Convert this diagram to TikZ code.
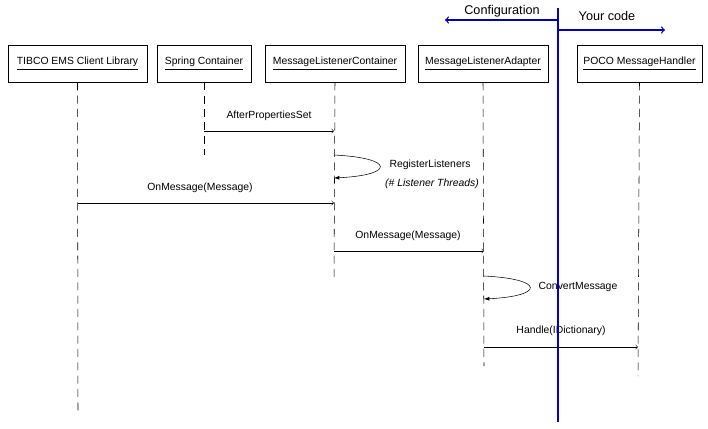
\documentclass[tikz,border=0pt]{standalone}
\usepackage{fontspec}
\setmainfont{Liberation Sans}
\usetikzlibrary{arrows}

\begin{document}
\begin{tikzpicture}[x=0.75pt,y=0.75pt,yscale=-1,xscale=1,
    font=\fontsize{7.8}{9}\selectfont,
    obj/.style={draw,minimum height=27.75pt,inner sep=0pt},
    life/.style={dash pattern={on 6pt off 4pt}},
    msg/.style={-to},
    blue line/.style={draw={rgb, 255:red, 0; green, 0; blue, 200},line width=1.6pt}]
    \useasboundingbox (0,0) rectangle (708,429);

    % Objects
    \node [obj,minimum width=104.25pt] (tibco) at (77.5,63.5) {\underline{TIBCO EMS Client Library}};
    \node [obj,minimum width=70.5pt] (spring) at (204,63.5) {\underline{Spring Container}};
    \node [obj,minimum width=105pt] (mlc) at (335,63.5) {\underline{MessageListenerContainer}};
    \node [obj,minimum width=97.5pt] (mla) at (483,63.5) {\underline{MessageListenerAdapter}};
    \node [obj,minimum width=93.75pt] (poco) at (639.5,63.5) {\underline{POCO MessageHandler}};

    % Lifeline ends
    \coordinate (tibcoE) at (78,415);
    \coordinate (springE) at (204,155);
    \coordinate (mlcE) at (334,280);
    \coordinate (mlaE) at (484,366);
    \coordinate (pocoE) at (638,376);
    \draw [life] (tibco.south) -- (tibcoE);
    \draw [life] (spring.south) -- (springE);
    \draw [life] (mlc.south) -- (mlcE);
    \draw [life] (mla.south) -- (mlaE);
    \draw [life] (poco.south) -- (pocoE);

    % Messages
    \draw [msg] (204,131) -- (334,131);
    \draw (269,116) node {AfterPropertiesSet};
    \draw [-latex] (334,155) .. controls (395,158) and (395,175) .. (334,178);
    \draw (430,165) node {RegisterListeners};
    \draw (432,184) node {\itshape (\# Listener Threads)};
    \draw [msg] (78,203) -- (334,203);
    \draw (200,188) node {OnMessage(Message)};
    \draw [msg] (334,251) -- (484,251);
    \draw (408,236) node {OnMessage(Message)};
    \draw [-latex] (484,276) .. controls (545,279) and (545,296) .. (484,299);
    \draw (578,287) node {ConvertMessage};
    \draw [msg] (484,347) -- (638,347);
    \draw (561,331) node {Handle(IDictionary)};

    % Boundary
    \coordinate (top) at (558,8);
    \coordinate (bot) at (558,422);
    \draw [blue line] (top) -- (bot);
    \draw [blue line,line width=1pt,-to] (558,20) -- (445,20);
    \draw [blue line,line width=1pt,-to] (558,30) -- (665,30);
    \draw (502,11) node [font=\fontsize{9.5}{11}\selectfont] {Configuration};
    \draw (607,16) node [font=\fontsize{9.5}{11}\selectfont] {Your code};
\end{tikzpicture}
\end{document}
